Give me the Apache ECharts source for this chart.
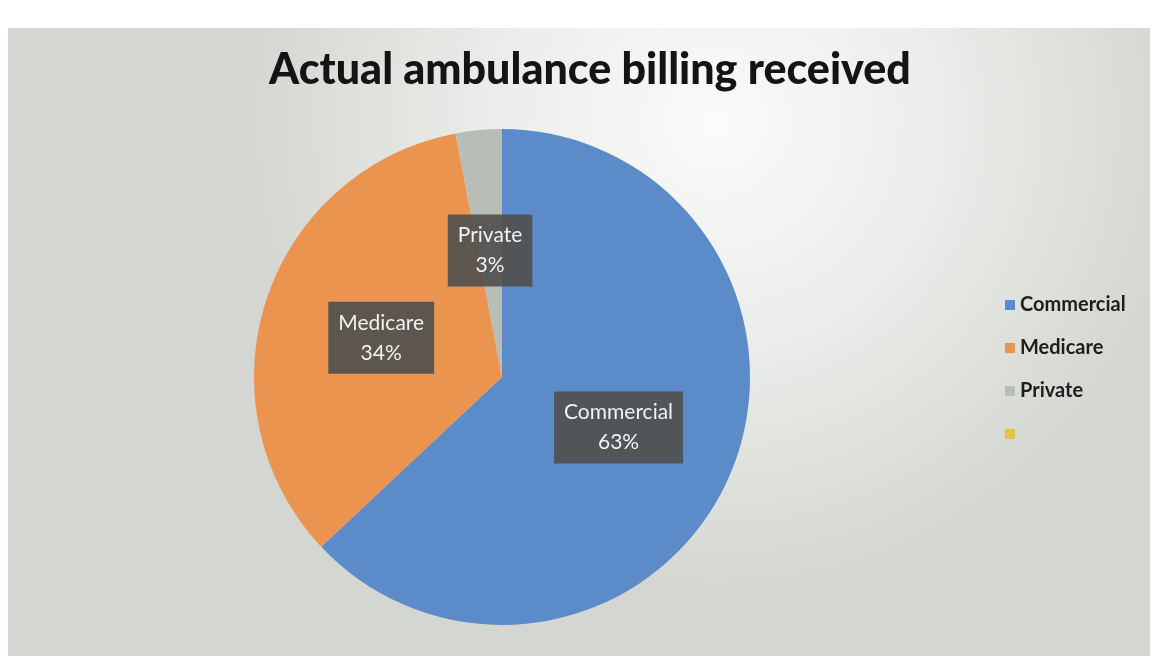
<!DOCTYPE html>
<html>
<head>
<meta charset="utf-8">
<script src="https://cdn.jsdelivr.net/npm/echarts@6/dist/echarts.min.js"></script>
<style>html,body{margin:0;padding:0;background:#fff;}#c{width:1158px;height:658px;}</style>
</head>
<body>
<div id="c"></div>
<script>
const titleText = 'Actual ambulance billing received';
const categories = ['Commercial', 'Medicare', 'Private', ' '];
const values = [63, 34, 3, 0];
const colors = ['#5b8bc9', '#eb9450', '#b9bdb8', '#e2c63e'];

const chart = echarts.init(document.getElementById('c'));
const fontFam = 'Lato, "Open Sans", "Noto Sans", sans-serif';
chart.setOption({
  backgroundColor: '#ffffff',
  animation: false,
  graphic: [{
    type: 'rect', z: -10, silent: true,
    shape: { x: 8, y: 28, width: 1142, height: 628 },
    style: {
      fill: {
        type: 'radial', x: 0.62, y: 0.15, r: 0.75,
        colorStops: [{ offset: 0, color: '#fbfbfa' }, { offset: 0.45, color: '#eceeeb' }, { offset: 1, color: '#d3d6d1' }]
      }
    }
  }],
  title: {
    text: titleText, left: 585, top: 44, textAlign: 'center',
    textStyle: { fontFamily: fontFam, fontWeight: 900, fontSize: 43, color: '#141414' }
  },
  legend: {
    orient: 'vertical', left: 1000, top: 290, itemGap: 23,
    itemWidth: 10, itemHeight: 10, icon: 'rect',
    data: categories,
    textStyle: { fontFamily: fontFam, fontSize: 20, fontWeight: 'bold', color: '#1e1e1e' }
  },
  series: [{
    type: 'pie', center: [502, 377], radius: 248,
    startAngle: 90, clockwise: true,
    color: colors,
    data: categories.map((n, i) => ({
      name: n, value: values[i],
      label: i === 3 ? { show: false } : undefined
    })),
    label: {
      show: true, position: 'inside',
      formatter: p => p.name + '\n' + p.value + '%',
      color: '#f2f2f2', fontFamily: fontFam, fontSize: 21, lineHeight: 30,
      backgroundColor: 'rgba(80,80,78,0.92)', padding: [6, 10, 6, 10]
    },
    labelLine: { show: false },
    itemStyle: { borderWidth: 0 },
    emphasis: { disabled: true }
  }]
});
</script>
</body>
</html>
